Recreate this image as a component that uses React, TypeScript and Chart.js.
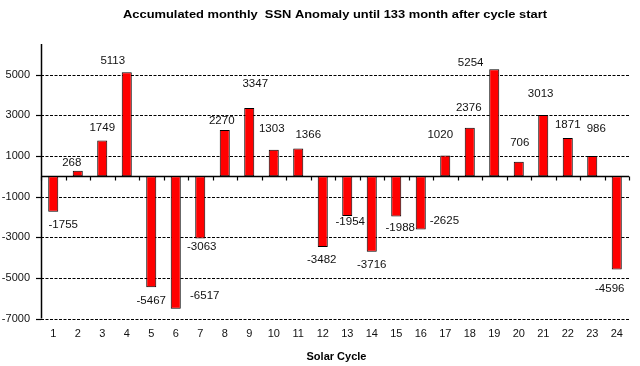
import React, { useEffect, useRef } from 'react';
import { Chart, registerables } from 'chart.js';

Chart.register(...registerables);

const TITLE = 'Accumulated monthly  SSN Anomaly until 133 month after cycle start';
const X_TITLE = 'Solar Cycle';

const cycles = ['1', '2', '3', '4', '5', '6', '7', '8', '9', '10', '11', '12', '13', '14', '15', '16', '17', '18', '19', '20', '21', '22', '23', '24'];
const anomaly = [-1755, 268, 1749, 5113, -5467, -6517, -3063, 2270, 3347, 1303, 1366, -3482, -1954, -3716, -1988, -2625, 1020, 2376, 5254, 706, 3013, 1871, 986, -4596];
const yTicks = [-7000, -5000, -3000, -1000, 1000, 3000, 5000];

// label placement relative to bar end (layout, in px)
const labelNudge: [number, number][] = [
  [10, 13], [-6, -7.5], [0, -13], [-14, -11], [0, 13], [29, -12.6],
  [1.5, 8.4], [-3, -9], [6, -24.6], [-2, -21], [10, -14], [-1, 12.4],
  [3, 6], [0, 13.4], [4, 11], [23.6, -8.7], [-5, -21], [-1, -20],
  [-23.6, -6.4], [1, -19], [-2.6, -21], [0, -13], [4, -27], [-7, 19.5],
];

const FONT = '"Liberation Sans", Arial, sans-serif';

function drawFitted(ctx: CanvasRenderingContext2D, text: string, cx: number, baseline: number, font: string, width: number) {
  ctx.save();
  ctx.font = font;
  const w = ctx.measureText(text).width;
  ctx.translate(cx, baseline);
  ctx.scale(width / w, 1);
  ctx.textAlign = 'center';
  ctx.textBaseline = 'alphabetic';
  ctx.fillStyle = '#000';
  ctx.fillText(text, 0, 0);
  ctx.restore();
}

const decor = {
  id: 'decor',
  beforeDatasetsDraw(chart: any) {
    const { ctx, chartArea: a, scales } = chart;
    const y = scales.y;
    ctx.save();
    ctx.strokeStyle = '#000';
    ctx.lineWidth = 1.2;
    ctx.setLineDash([3, 1.5]);
    for (const v of yTicks) {
      const py = Math.round(y.getPixelForValue(v)) + 0.5;
      ctx.beginPath();
      ctx.moveTo(a.left, py);
      ctx.lineTo(a.right, py);
      ctx.stroke();
    }
    ctx.setLineDash([]);
    for (const v of yTicks) {
      const py = Math.round(y.getPixelForValue(v)) + 0.5;
      ctx.beginPath();
      ctx.moveTo(a.left - 5, py);
      ctx.lineTo(a.left, py);
      ctx.stroke();
    }
    ctx.lineWidth = 1.5;
    ctx.beginPath();
    ctx.moveTo(a.left + 0.5, a.top);
    ctx.lineTo(a.left + 0.5, a.bottom);
    ctx.stroke();
    const z = Math.round(y.getPixelForValue(0)) + 0.5;
    ctx.beginPath();
    ctx.moveTo(a.left, z);
    ctx.lineTo(a.right, z);
    ctx.stroke();
    ctx.lineWidth = 1.2;
    const n = cycles.length;
    for (let i = 0; i <= n; i++) {
      const px = Math.round(a.left + ((a.right - a.left) * i) / n) + 0.5;
      ctx.beginPath();
      ctx.moveTo(px, z);
      ctx.lineTo(px, z + 4);
      ctx.stroke();
    }
    ctx.restore();
  },
  afterDatasetsDraw(chart: any) {
    const { ctx } = chart;
    const meta = chart.getDatasetMeta(0);
    ctx.save();
    ctx.font = `11.5px ${FONT}`;
    ctx.fillStyle = '#111';
    ctx.textAlign = 'center';
    ctx.textBaseline = 'middle';
    meta.data.forEach((bar: any, i: number) => {
      const [dx, dy] = labelNudge[i];
      ctx.fillText(String(anomaly[i]), bar.x + dx, bar.y + dy);
    });
    ctx.restore();
  },
  afterDraw(chart: any) {
    const { ctx } = chart;
    drawFitted(ctx, TITLE, 335, 17.5, `bold 11.5px ${FONT}`, 424);
    drawFitted(ctx, X_TITLE, 336.5, 360, `bold 11px ${FONT}`, 60);
  },
};

export default function App() {
  const ref = useRef<HTMLCanvasElement | null>(null);
  useEffect(() => {
    if (!ref.current) return;
    const chart = new Chart(ref.current, {
      type: 'bar',
      data: {
        labels: cycles,
        datasets: [
          {
            data: anomaly,
            backgroundColor: '#FF0000',
            borderColor: '#000',
            borderWidth: 1,
            borderSkipped: false,
            barPercentage: 0.41,
            categoryPercentage: 1,
          },
        ],
      },
      options: {
        animation: false,
        responsive: false,
        devicePixelRatio: 1,
        layout: { padding: { top: 44, right: 11, left: 0, bottom: 0 } },
        plugins: {
          legend: { display: false },
          tooltip: { enabled: false },
          title: { display: false },
        },
        scales: {
          x: {
            grid: { display: false, drawTicks: false },
            border: { display: false },
            ticks: { font: { family: FONT, size: 11 }, color: '#111', padding: 9, maxRotation: 0, autoSkip: false },
            afterFit: (s: any) => {
              s.height = 47.5;
            },
          },
          y: {
            min: -7000,
            max: 6500,
            grid: { display: false, drawTicks: false },
            border: { display: false },
            afterBuildTicks: (s: any) => {
              s.ticks = yTicks.map((v) => ({ value: v }));
            },
            ticks: {
              font: { family: FONT, size: 11 },
              color: '#111',
              padding: 11,
              callback: (v: any) => String(v),
            },
            afterFit: (s: any) => {
              s.width = 41;
            },
          },
        },
      },
      plugins: [decor],
    });
    return () => chart.destroy();
  }, []);
  return (
    <div style={{ position: 'fixed', left: 0, top: 0, width: 640, height: 366, background: '#fff' }}>
      <canvas ref={ref} width={640} height={366} />
    </div>
  );
}
